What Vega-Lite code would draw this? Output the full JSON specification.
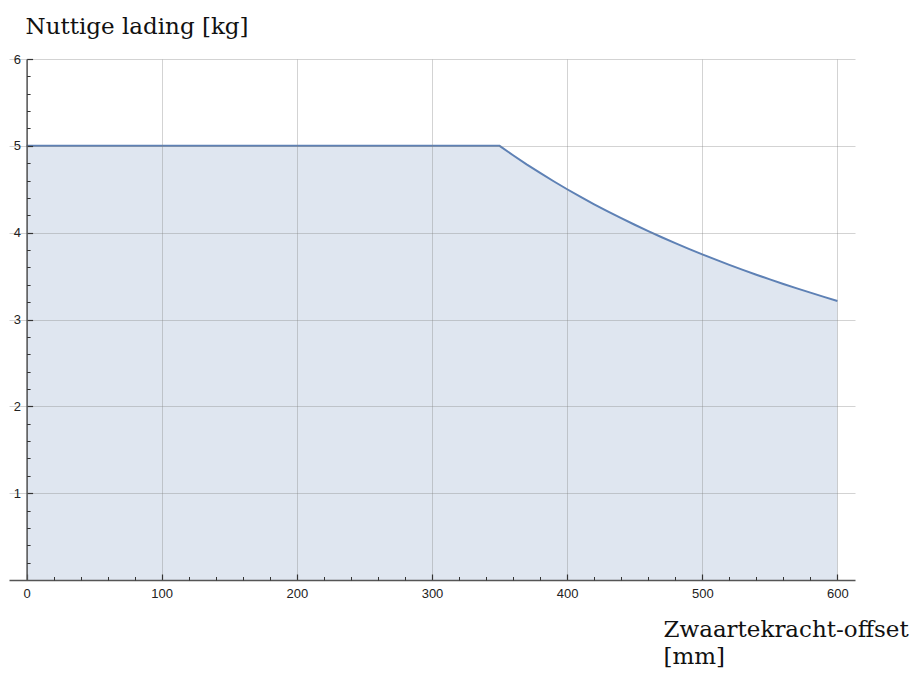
{
  "$schema": "https://vega.github.io/schema/vega-lite/v6.json",
  "width": 846,
  "height": 521,
  "autosize": {"type": "none"},
  "padding": {"left": 9, "top": 59, "right": 62, "bottom": 96},
  "background": "white",
  "config": {"view": {"stroke": null}},
  "data": {
    "values": [
      {"x": 0, "y": 5}, {"x": 100, "y": 5}, {"x": 200, "y": 5}, {"x": 300, "y": 5}, {"x": 350, "y": 5},
      {"x": 360, "y": 4.891}, {"x": 370, "y": 4.787}, {"x": 380, "y": 4.688}, {"x": 390, "y": 4.592},
      {"x": 400, "y": 4.5}, {"x": 410, "y": 4.412}, {"x": 420, "y": 4.327}, {"x": 430, "y": 4.245},
      {"x": 440, "y": 4.167}, {"x": 450, "y": 4.091}, {"x": 460, "y": 4.018}, {"x": 470, "y": 3.947},
      {"x": 480, "y": 3.879}, {"x": 490, "y": 3.814}, {"x": 500, "y": 3.75}, {"x": 510, "y": 3.689},
      {"x": 520, "y": 3.629}, {"x": 530, "y": 3.571}, {"x": 540, "y": 3.516}, {"x": 550, "y": 3.462},
      {"x": 560, "y": 3.409}, {"x": 570, "y": 3.358}, {"x": 580, "y": 3.309}, {"x": 590, "y": 3.261},
      {"x": 600, "y": 3.214}
    ]
  },
  "layer": [
    {
      "mark": {"type": "area", "color": "#5E81B5", "opacity": 0.2},
      "encoding": {
        "x": {
          "field": "x", "type": "quantitative",
          "scale": {"domain": [-13, 613], "nice": false, "zero": false},
          "axis": {
            "orient": "bottom",
            "values": [0, 100, 200, 300, 400, 500, 600],
            "grid": true, "gridColor": "#808080", "gridOpacity": 0.35, "gridWidth": 1,
            "domainColor": "#555555", "domainWidth": 1.5,
            "tickColor": "#333333", "tickSize": -6, "tickWidth": 1.2,
            "labelFont": "Liberation Sans", "labelFontSize": 13, "labelColor": "#222222",
            "labelPadding": 13, "labelFlush": false, "labelOverlap": false,
            "title": ["Zwaartekracht-offset", "[mm]"],
            "titleFont": "DejaVu Serif", "titleFontSize": 23, "titleFontWeight": "normal",
            "titleColor": "#111111", "titleAlign": "left", "titleBaseline": "alphabetic",
            "titleX": 654, "titleY": 56, "titleLineHeight": 27,
            "zindex": 1
          }
        },
        "y": {
          "field": "y", "type": "quantitative",
          "scale": {"domain": [0, 6], "nice": false, "zero": true},
          "axis": {
            "orient": "left", "offset": -17.6,
            "values": [1, 2, 3, 4, 5, 6],
            "grid": true, "gridColor": "#808080", "gridOpacity": 0.35, "gridWidth": 1,
            "domainColor": "#555555", "domainWidth": 1.5,
            "tickColor": "#333333", "tickSize": -6, "tickWidth": 1.2,
            "labelFont": "Liberation Sans", "labelFontSize": 13, "labelColor": "#222222",
            "labelPadding": 12, "labelOverlap": false,
            "title": "Nuttige lading [kg]",
            "titleFont": "DejaVu Serif", "titleFontSize": 23, "titleFontWeight": "normal",
            "titleColor": "#111111", "titleAngle": 0, "titleAlign": "left", "titleBaseline": "alphabetic",
            "titleX": -1.6, "titleY": -26,
            "zindex": 1
          }
        }
      }
    },
    {
      "mark": {"type": "line", "color": "#5E81B5", "strokeWidth": 2},
      "encoding": {
        "x": {"field": "x", "type": "quantitative", "axis": null},
        "y": {"field": "y", "type": "quantitative", "axis": null}
      }
    },
    {
      "mark": {"type": "point", "opacity": 0},
      "encoding": {
        "x": {
          "field": "x", "type": "quantitative",
          "axis": {
            "orient": "bottom",
            "values": [20, 40, 60, 80, 120, 140, 160, 180, 220, 240, 260, 280, 320, 340, 360, 380, 420, 440, 460, 480, 520, 540, 560, 580],
            "labels": false, "grid": false, "domain": false, "title": null,
            "tickColor": "#333333", "tickSize": -3.5, "tickWidth": 1,
            "zindex": 1
          }
        },
        "y": {
          "field": "y", "type": "quantitative",
          "axis": {
            "orient": "left", "offset": -17.6,
            "values": [0.2, 0.4, 0.6, 0.8, 1.2, 1.4, 1.6, 1.8, 2.2, 2.4, 2.6, 2.8, 3.2, 3.4, 3.6, 3.8, 4.2, 4.4, 4.6, 4.8, 5.2, 5.4, 5.6, 5.8],
            "labels": false, "grid": false, "domain": false, "title": null,
            "tickColor": "#333333", "tickSize": -3.5, "tickWidth": 1,
            "zindex": 1
          }
        }
      }
    }
  ],
  "resolve": {"axis": {"x": "independent", "y": "independent"}}
}
